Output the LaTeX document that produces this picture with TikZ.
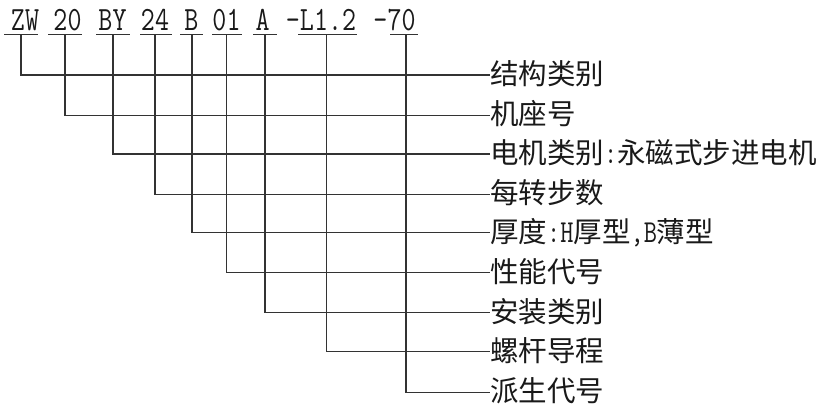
\documentclass[tikz,border=0pt]{standalone}
\usepackage{fontspec}
\setmainfont{Liberation Serif}
\newfontfamily\cjk{Noto Sans CJK SC}
\newfontfamily\codefont[FakeStretch=0.8]{Latin Modern Mono}
\newcommand\codesize{\fontsize{34}{34}\selectfont}
\newcommand\lat[1]{{\codefont\fontsize{32}{32}\selectfont #1}}
\begin{document}
\begin{tikzpicture}[x=1pt,y=-1pt,
  code/.style={font=\codefont\codesize, inner sep=0pt, anchor=base, text=black!90},
  lab/.style={font=\cjk\fontsize{28.5}{30}\selectfont, anchor=west, inner sep=0pt,
              text height=22.8pt, text depth=4pt, text=black!90},
  wire/.style={line width=1.2pt, draw=black!80}]
\useasboundingbox (0,0) rectangle (829,414);

% code tokens
\node[code] (c1) at (25,31)    {ZW};
\node[code] (c2) at (67.5,31)  {20};
\node[code] (c3) at (112.5,31) {BY};
\node[code] (c4) at (155,31)   {24};
\node[code] (c5) at (191.5,31) {B};
\node[code] (c6) at (226.5,31) {01};
\node[code] (c7) at (262.5,31) {A};
\node[code] (c8) at (321,31)   {-L1.2};
\node[code] (c9) at (394.5,31) {-70};

% underline ends
\coordinate (u1l) at (4,34.5);   \coordinate (u1r) at (38,34.5);
\coordinate (u2l) at (48,34.5);  \coordinate (u2r) at (82,34.5);
\coordinate (u3l) at (96,34.5);  \coordinate (u3r) at (130,34.5);
\coordinate (u4l) at (140,34.5); \coordinate (u4r) at (172,34.5);
\coordinate (u5l) at (180,34.5); \coordinate (u5r) at (203,34.5);
\coordinate (u6l) at (212,34.5); \coordinate (u6r) at (242,34.5);
\coordinate (u7l) at (253,34.5); \coordinate (u7r) at (277,34.5);
\coordinate (u8l) at (298,34.5); \coordinate (u8r) at (357,34.5);
\coordinate (u9l) at (390,34.5); \coordinate (u9r) at (418,34.5);

% stems (top of each vertical)
\coordinate (t1) at (21,34.5);
\coordinate (t2) at (65,34.5);
\coordinate (t3) at (113,34.5);
\coordinate (t4) at (155,34.5);
\coordinate (t5) at (192,34.5);
\coordinate (t6) at (226.5,34.5);
\coordinate (t7) at (265,34.5);
\coordinate (t8) at (326.5,34.5);
\coordinate (t9) at (406,34.5);

% labels
\node[lab] (l1) at (490,75)    {结构类别};
\node[lab] (l2) at (490,115.5) {机座号};
\node[lab] (l3) at (490,154)   {电机类别\lat{:}永磁式步进电机};
\node[lab] (l4) at (490,194.3) {每转步数};
\node[lab] (l5) at (490,232.7) {厚度\lat{:H}厚型\lat{,B}薄型};
\node[lab] (l6) at (490,272.7) {性能代号};
\node[lab] (l7) at (490,312.7) {安装类别};
\node[lab] (l8) at (490,351.7) {螺杆导程};
\node[lab] (l9) at (490,392.3) {派生代号};

% underlines and leaders
\foreach \i in {1,...,9}{
  \draw[wire] (u\i l) -- (u\i r);
  \draw[wire] (t\i) |- (l\i.west);
}
\end{tikzpicture}
\end{document}
